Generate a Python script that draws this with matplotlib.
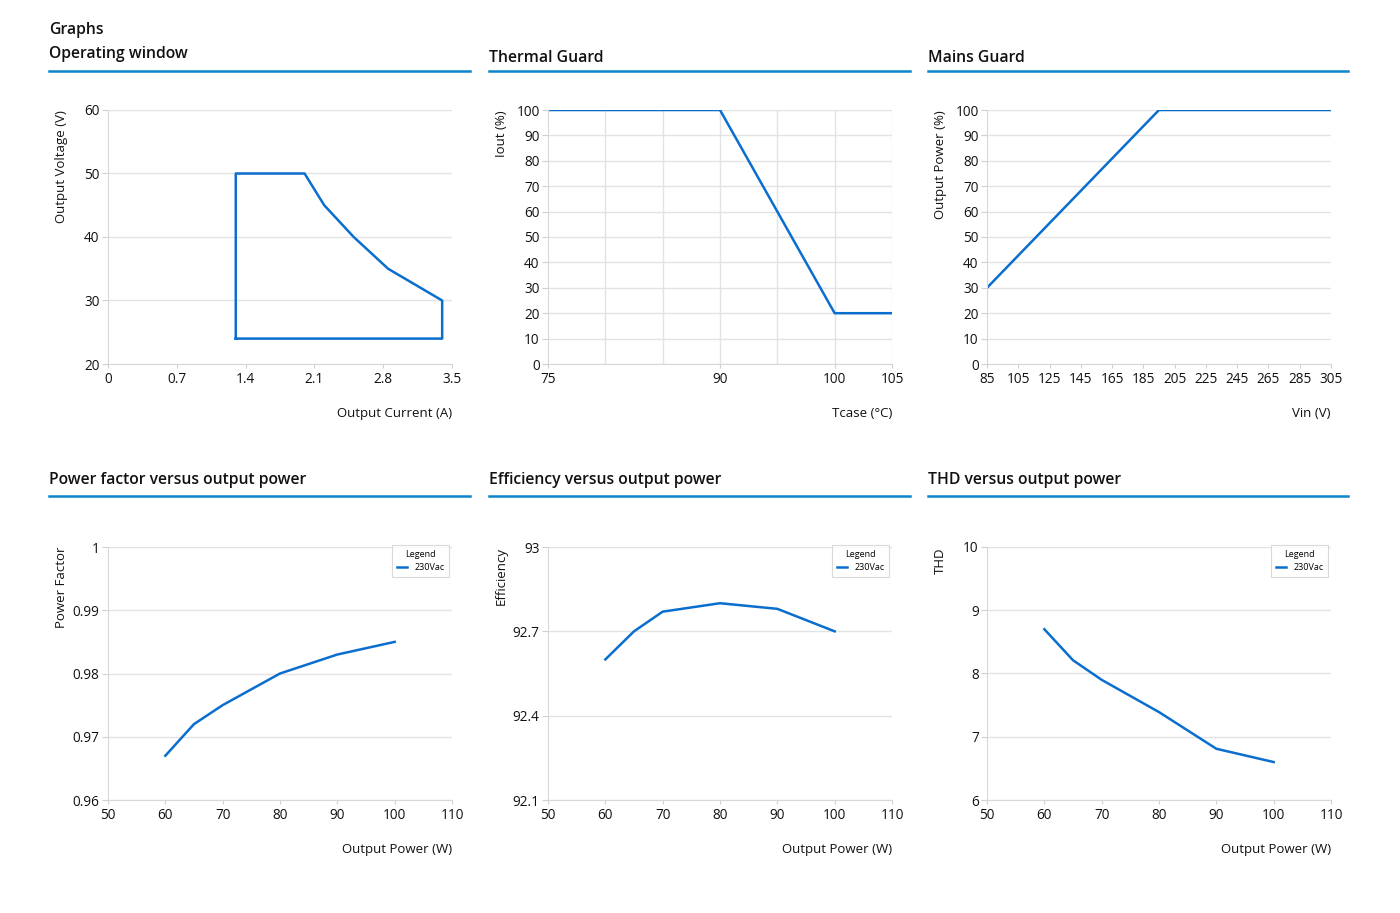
import matplotlib.pyplot as plt
from matplotlib.lines import Line2D

plt.rcParams['font.family'] = ['Open Sans', 'DejaVu Sans']

W, H = 1400, 913
BLUE = '#0a6ecf'
RULE = '#0b85c8'
GRID = '#e3e3e3'

# Operating window
ow_current = [1.3, 1.3, 2.0, 2.2, 2.5, 2.85, 3.4, 3.4, 1.3]
ow_voltage = [24, 50, 50, 45, 40, 35, 30, 24, 24]
ow_xticks = [0, 0.7, 1.4, 2.1, 2.8, 3.5]
ow_yticks = [20, 30, 40, 50, 60]

# Thermal guard
tg_temp = [75, 90, 100, 105]
tg_iout = [100, 100, 20, 20]
tg_xticks = [75, 90, 100, 105]
tg_xgrid = [80, 85, 90, 95, 100, 105]
tg_yticks = list(range(0, 101, 10))

# Mains guard
mg_vin = [85, 195, 305]
mg_power = [30, 100, 100]
mg_xticks = list(range(85, 306, 20))
mg_yticks = list(range(0, 101, 10))

# Output power curves (230Vac)
power = [60, 65, 70, 80, 90, 100]
pf_values = [0.967, 0.972, 0.975, 0.980, 0.983, 0.985]
eff_values = [92.60, 92.70, 92.77, 92.80, 92.78, 92.70]
thd_values = [8.70, 8.21, 7.90, 7.39, 6.81, 6.60]
pw_xticks = [50, 60, 70, 80, 90, 100, 110]
pf_yticks = [0.96, 0.97, 0.98, 0.99, 1.0]
pf_ylabels = ['0.96', '0.97', '0.98', '0.99', '1']
eff_yticks = [92.1, 92.4, 92.7, 93.0]
eff_ylabels = ['92.1', '92.4', '92.7', '93']
thd_yticks = [6, 7, 8, 9, 10]

fig = plt.figure(figsize=(W / 100, H / 100), dpi=100)


def px_axes(x0, y0, x1, y1):
    return fig.add_axes([x0 / W, 1 - y1 / H, (x1 - x0) / W, (y1 - y0) / H])


def header(x0, x1, y_text, y_rule, title):
    fig.text(x0 / W, 1 - y_text / H, title, fontsize=11.3, va='center', ha='left',
             fontweight='semibold', color='#111111')
    fig.add_artist(Line2D([x0 / W, x1 / W], [1 - y_rule / H] * 2, color=RULE, lw=1.8))


def style(ax, xlabel, ylabel, xticks, yticks, xlabels=None, ylabels=None, xgrid=None):
    ax.set_xticks(xticks)
    ax.set_yticks(yticks)
    if xlabels is not None:
        ax.set_xticklabels(xlabels)
    if ylabels is not None:
        ax.set_yticklabels(ylabels)
    ax.set_xlim(xticks[0], xticks[-1])
    ax.set_ylim(yticks[0], yticks[-1])
    ax.grid(axis='y', color=GRID, lw=1)
    if xgrid is not None:
        for g in xgrid:
            ax.axvline(g, color=GRID, lw=1, zorder=0)
    ax.set_axisbelow(True)
    for s in ['top', 'right']:
        ax.spines[s].set_visible(False)
    for s in ['left', 'bottom']:
        ax.spines[s].set_color('#d8d8d8')
    ax.tick_params(axis='both', labelsize=9.8, colors='#d0d0d0', labelcolor='#111111')
    ax.tick_params(axis='y', length=4, pad=2)
    ax.tick_params(axis='x', length=3, pad=3)
    ax.set_xlabel(xlabel, loc='right', fontsize=9.5, labelpad=14, color='#111111')
    ax.set_ylabel(ylabel, loc='top', fontsize=9.5, color='#111111')
    ax.yaxis.set_label_coords(-40 / 344, 1.0)


def add_legend(ax):
    leg = ax.legend(loc='upper right', title='Legend', fontsize=6.5, title_fontsize=6.5,
                    frameon=True, fancybox=False, handlelength=1.2, borderpad=0.5,
                    bbox_to_anchor=(1.005, 1.025))
    leg.get_frame().set_edgecolor('#d0d0d0')
    leg.get_frame().set_linewidth(0.8)


cols = [(49, 470), (489, 910), (928, 1348)]
plot_x = [(108, 452), (548, 892), (987, 1331)]

fig.text(49 / W, 1 - 29.5 / H, 'Graphs', fontsize=11.3, va='center', ha='left',
         fontweight='semibold', color='#111111')
header(cols[0][0], cols[0][1], 54, 71, 'Operating window')
header(cols[1][0], cols[1][1], 58, 71, 'Thermal Guard')
header(cols[2][0], cols[2][1], 58, 71, 'Mains Guard')
header(cols[0][0], cols[0][1], 480, 496, 'Power factor versus output power')
header(cols[1][0], cols[1][1], 480, 496, 'Efficiency versus output power')
header(cols[2][0], cols[2][1], 480, 496, 'THD versus output power')

# top row
ax = px_axes(plot_x[0][0], 110, plot_x[0][1], 364)
ax.plot(ow_current, ow_voltage, color=BLUE, lw=1.8)
style(ax, 'Output Current (A)', 'Output Voltage (V)', ow_xticks, ow_yticks,
      xlabels=['0', '0.7', '1.4', '2.1', '2.8', '3.5'])

ax = px_axes(plot_x[1][0], 110, plot_x[1][1], 364)
ax.plot(tg_temp, tg_iout, color=BLUE, lw=1.8)
style(ax, 'Tcase (°C)', 'Iout (%)', tg_xticks, tg_yticks, xgrid=tg_xgrid)

ax = px_axes(plot_x[2][0], 110, plot_x[2][1], 364)
ax.plot(mg_vin, mg_power, color=BLUE, lw=1.8)
style(ax, 'Vin (V)', 'Output Power (%)', mg_xticks, mg_yticks)

# bottom row
ax = px_axes(plot_x[0][0], 547, plot_x[0][1], 800)
ax.plot(power, pf_values, color=BLUE, lw=1.8, label='230Vac')
style(ax, 'Output Power (W)', 'Power Factor', pw_xticks, pf_yticks, ylabels=pf_ylabels)
add_legend(ax)

ax = px_axes(plot_x[1][0], 547, plot_x[1][1], 800)
ax.plot(power, eff_values, color=BLUE, lw=1.8, label='230Vac')
style(ax, 'Output Power (W)', 'Efficiency', pw_xticks, eff_yticks, ylabels=eff_ylabels)
add_legend(ax)

ax = px_axes(plot_x[2][0], 547, plot_x[2][1], 800)
ax.plot(power, thd_values, color=BLUE, lw=1.8, label='230Vac')
style(ax, 'Output Power (W)', 'THD', pw_xticks, thd_yticks)
add_legend(ax)

fig.savefig('out.png', dpi=100, facecolor='white')
